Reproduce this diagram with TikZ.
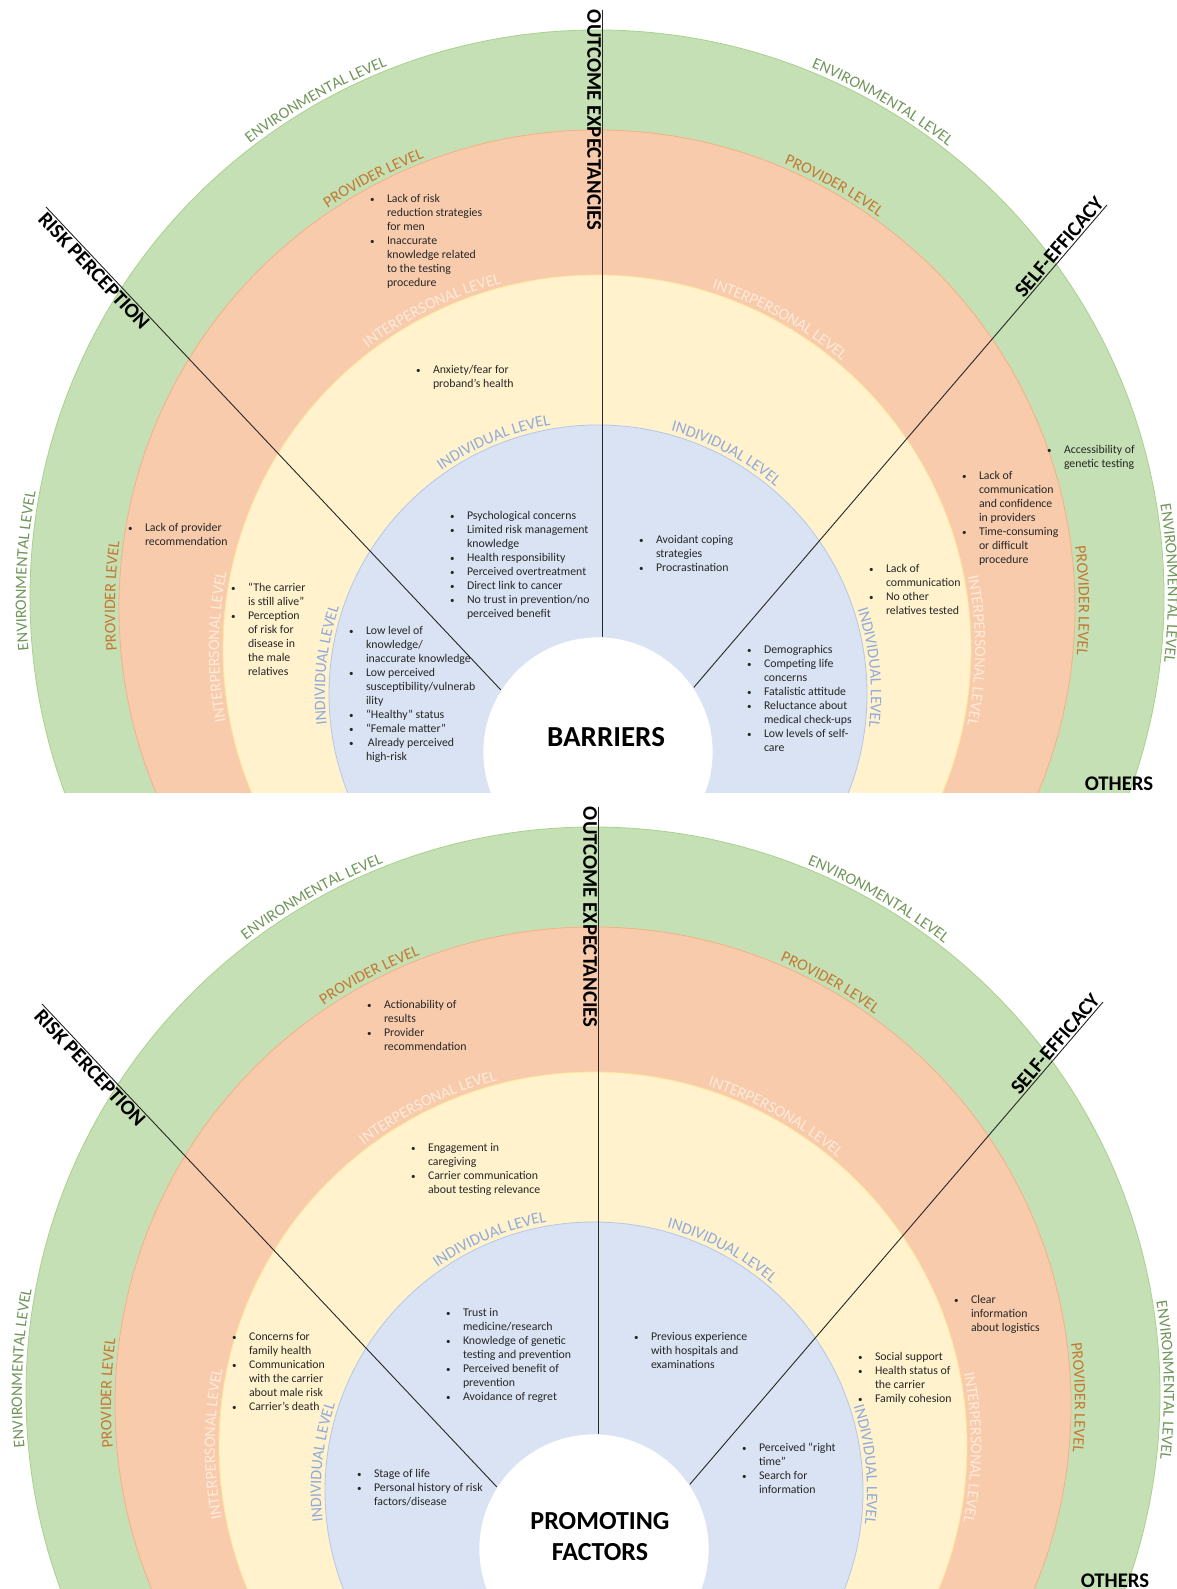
\documentclass[tikz,border=0pt]{standalone}
\usepackage{fontspec}
\setmainfont{Carlito}
\usetikzlibrary{decorations.text}
\definecolor{gfill}{HTML}{C5E0B4}
\definecolor{gline}{HTML}{A9D18E}
\definecolor{ofill}{HTML}{F8CBAD}
\definecolor{oline}{HTML}{F4B183}
\definecolor{yfill}{HTML}{FFF2CC}
\definecolor{yline}{HTML}{FFE699}
\definecolor{bfill}{HTML}{DAE3F3}
\definecolor{bline}{HTML}{B4C7E7}
\definecolor{envc}{RGB}{112,150,90}
\definecolor{provc}{RGB}{196,120,50}
\definecolor{intc}{RGB}{253,235,217}
\definecolor{indc}{RGB}{143,170,220}
\newcommand\LvlFont{\fontsize{16}{16}\selectfont}
\newcommand\BodyFont{\fontsize{11.8}{14}\selectfont}
\newcommand\TtlFont{\bfseries\fontsize{20.8}{20.8}\selectfont}
\newcommand\BulGlyph{{\fontsize{9}{9}\selectfont\textbullet}}
\newcommand\Bul[1]{\par\noindent\hangindent=17pt\hangafter=1\makebox[17pt][l]{\BulGlyph}#1}
\newcommand\Blk[1]{\begin{minipage}[t]{220pt}\BodyFont#1\end{minipage}}
% #1 centre, #2 radius, #3 mid angle, #4 colour, #5 text, #6 half span
\newcommand\Lvl[6]{%
 \path[decorate, decoration={text along path, text={|\LvlFont|#5}, text align=center, text color=#4}]
   ([shift={(#3+#6:#2)}]#1) arc[start angle=#3+#6, end angle=#3-#6, radius=#2];}
\newcommand\Backdrop[1]{%
 \coordinate (#1gc) at (597,992);
 \coordinate (#1oc) at (597,981);
 \coordinate (#1yc) at (597,940);
 \coordinate (#1bc) at (598,895);
 \coordinate (#1wc) at (598,837);
 \coordinate (#1oeA) at (602,1579); \coordinate (#1oeB) at (602,900);
 \coordinate (#1rpA) at (46,1382);  \coordinate (#1rpB) at (515,884);
 \coordinate (#1seA) at (1107,1384); \coordinate (#1seB) at (683,889);
 \begin{scope}
  \clip (-20,796) rectangle (1200,1600);
  \fill[gfill, draw=gline, line width=0.8pt] (#1gc) circle[radius=567];
  \fill[ofill, draw=oline, line width=0.8pt] (#1oc) circle[radius=478];
  \fill[yfill, draw=yline, line width=0.8pt] (#1yc) circle[radius=374];
  \fill[bfill, draw=bline, line width=0.8pt] (#1bc) circle[radius=269];
  \draw[conn] (#1oeA) -- (#1oeB);
  \draw[conn] (#1rpA) -- (#1rpB);
  \draw[conn] (#1seA) -- (#1seB);
  \fill[white, draw=bfill, line width=0.6pt] (#1wc) circle[radius=115];
 \end{scope}
 \Lvl{#1gc}{571}{119.5}{envc}{ENVIRONMENTAL LEVEL}{30}
 \Lvl{#1oc}{482}{117.5}{provc}{PROVIDER LEVEL}{30}
 \Lvl{#1yc}{378}{116}{intc}{INTERPERSONAL LEVEL}{35}
 \Lvl{#1bc}{273}{112.5}{indc}{INDIVIDUAL LEVEL}{35}
 \Lvl{#1gc}{571}{60}{envc}{ENVIRONMENTAL LEVEL}{30}
 \Lvl{#1oc}{482}{60.7}{provc}{PROVIDER LEVEL}{30}
 \Lvl{#1yc}{378}{61}{intc}{INTERPERSONAL LEVEL}{35}
 \Lvl{#1bc}{273}{62}{indc}{INDIVIDUAL LEVEL}{35}
 \Lvl{#1gc}{571}{177.4}{envc}{ENVIRONMENTAL LEVEL}{30}
 \Lvl{#1oc}{482}{178.6}{provc}{PROVIDER LEVEL}{30}
 \Lvl{#1yc}{378}{179.7}{intc}{INTERPERSONAL LEVEL}{35}
 \Lvl{#1bc}{273}{174}{indc}{INDIVIDUAL LEVEL}{35}
 \Lvl{#1gc}{571}{1.4}{envc}{ENVIRONMENTAL LEVEL}{30}
 \Lvl{#1oc}{482}{0.9}{provc}{PROVIDER LEVEL}{30}
 \Lvl{#1yc}{378}{-0.2}{intc}{INTERPERSONAL LEVEL}{35}
 \Lvl{#1bc}{273}{5.5}{indc}{INDIVIDUAL LEVEL}{35}
 \node[ttl, rotate=-90, anchor=north west] (#1-oe) at (601,1579) {OUTCOME EXPECTANCIES};
 \node[ttl, rotate=-46.7, anchor=north west] (#1-rp) at (47,1378) {RISK PERCEPTION};
 \node[ttl, rotate=49.4, anchor=south east] (#1-se) at (1105,1385) {SELF-EFFICACY};
 \node[ttl] (#1-ot) at (1119,805) {OTHERS};
}
\begin{document}
\begin{tikzpicture}[x=1pt,y=1pt,
  conn/.style={draw=black!85, line width=0.9pt},
  ttl/.style={inner sep=0pt, outer sep=0pt, font=\TtlFont, text=black},
  blk/.style={anchor=base west, inner sep=0pt, outer sep=0pt, text=black!85},
  ctr/.style={inner sep=0pt, outer sep=0pt, align=center, text=black}]
\fill[white] (0,0) rectangle (1177,1589);
\useasboundingbox (0,0) rectangle (1177,1589);

% ---------- top diagram: barriers ----------
\Backdrop{t}
\node[ctr, font=\bfseries\fontsize{29}{29}\selectfont] (barr) at (606,852) {BARRIERS};
\node[blk] (t1) at (370,1386.5) {\Blk{\Bul{Lack of risk\\reduction strategies\\for men}\Bul{Inaccurate\\knowledge related\\to the testing\\procedure}}};
\node[blk] (t2) at (416,1215.5) {\Blk{\Bul{Anxiety/fear for\\proband’s health}}};
\node[blk] (t3) at (128,1057.5) {\Blk{\Bul{Lack of provider\\recommendation}}};
\node[blk] (t4) at (231,997.5) {\Blk{\Bul{“The carrier\\is still alive”}\Bul{Perception\\of risk for\\disease in\\the male\\relatives}}};
\node[blk] (t5) at (450,1069.5) {\Blk{\Bul{Psychological concerns}\Bul{Limited risk management\\knowledge}\Bul{Health responsibility}\Bul{Perceived overtreatment}\Bul{Direct link to cancer}\Bul{No trust in prevention/no\\perceived benefit}}};
\node[blk] (t6) at (349,954.5) {\Blk{\Bul{Low level of\\knowledge/\\inaccurate knowledge}\Bul{Low perceived\\susceptibility/vulnerab\\ility}\Bul{“Healthy” status}\Bul{“Female matter”}\Bul{\,Already perceived\\high-risk}}};
\node[blk] (t7) at (639,1045.5) {\Blk{\Bul{Avoidant coping\\strategies}\Bul{Procrastination}}};
\node[blk] (t8) at (747,935.5) {\Blk{\Bul{Demographics}\Bul{Competing life\\concerns}\Bul{Fatalistic attitude}\Bul{Reluctance about\\medical check-ups}\Bul{Low levels of self-\\care}}};
\node[blk] (t9) at (869,1016.5) {\Blk{\Bul{Lack of\\communication}\Bul{No other\\relatives tested}}};
\node[blk] (t10) at (962,1109) {\Blk{\Bul{Lack of\\communication\\and confidence\\in providers}\Bul{Time-consuming\\or difficult\\procedure}}};
\node[blk] (t11) at (1047,1135.5) {\Blk{\Bul{Accessibility of\\genetic testing}}};

% ---------- bottom diagram: promoting factors ----------
\begin{scope}[shift={(-4,-797)}]
\Backdrop{b}
\end{scope}
\node[ctr, font=\bfseries\fontsize{26}{31}\selectfont] (prom) at (600,52.5) {PROMOTING\\FACTORS};
\node[blk] (b1) at (367,580) {\Blk{\Bul{Actionability of\\results}\Bul{Provider\\recommendation}}};
\node[blk] (b2) at (411,437) {\Blk{\Bul{Engagement in\\caregiving}\Bul{Carrier communication\\about testing relevance}}};
\node[blk] (b3) at (232,248.5) {\Blk{\Bul{Concerns for\\family health}\Bul{Communication\\with the carrier\\about male risk}\Bul{Carrier’s death}}};
\node[blk] (b4) at (446,272.5) {\Blk{\Bul{Trust in\\medicine/research}\Bul{Knowledge of genetic\\testing and prevention}\Bul{Perceived benefit of\\prevention}\Bul{Avoidance of regret}}};
\node[blk] (b5) at (357,111.5) {\Blk{\Bul{Stage of life}\Bul{Personal history of risk\\factors/disease}}};
\node[blk] (b6) at (634,248.5) {\Blk{\Bul{Previous experience\\with hospitals and\\examinations}}};
\node[blk] (b7) at (742,137.5) {\Blk{\Bul{Perceived “right\\time”}\Bul{Search for\\information}}};
\node[blk] (b8) at (858,228) {\Blk{\Bul{Social support}\Bul{Health status of\\the carrier}\Bul{Family cohesion}}};
\node[blk] (b9) at (954,285.5) {\Blk{\Bul{Clear\\information\\about logistics}}};
\end{tikzpicture}
\end{document}
